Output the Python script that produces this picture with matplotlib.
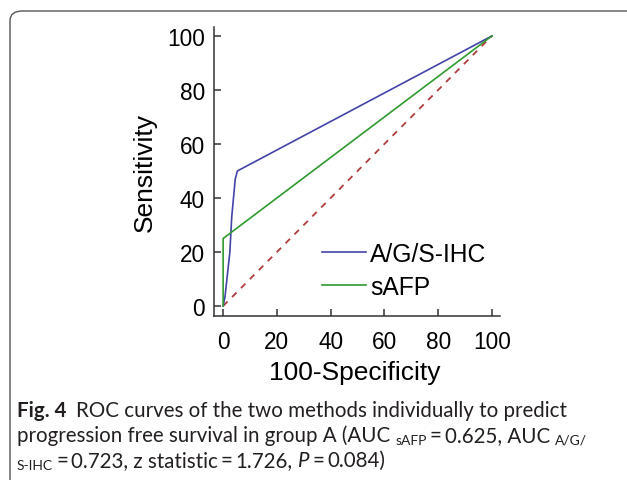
import matplotlib
matplotlib.use("Agg")
import matplotlib.pyplot as plt
from matplotlib.patches import FancyBboxPatch

# ---- data ----
ihc_fpr = [0, 0.7, 2.5, 3.2, 4.5, 5.3, 100]
ihc_tpr = [0, 3.5, 20, 33, 47, 50, 100]
safp_fpr = [0, 0, 100]
safp_tpr = [0, 25, 100]
ref_x = [0, 100]
ref_y = [0, 100]
ticks = [0, 20, 40, 60, 80, 100]
series_labels = ["A/G/S-IHC", "sAFP"]
xlabel = "100-Specificity"
ylabel = "Sensitivity"

W, H = 627, 481
fig = plt.figure(figsize=(W / 100, H / 100), dpi=100)
fig.patch.set_facecolor("white")

def fx(px):
    return px / W

def fy(py):
    return 1 - py / H

# rounded frame
frame = FancyBboxPatch((fx(10), fy(490)), fx(640) - fx(10), fy(12) - fy(490),
                       boxstyle="round,pad=0,rounding_size=0.02",
                       transform=fig.transFigure, fill=False,
                       edgecolor="#555555", linewidth=1.0, clip_on=False)
fig.patches.append(frame)

ax_left, ax_right = 214, 500
ax_top, ax_bottom = 28, 317
ax = fig.add_axes([fx(ax_left), fy(ax_bottom), fx(ax_right) - fx(ax_left), fy(ax_top) - fy(ax_bottom)])
ax.set_facecolor("none")

ax.plot(ref_x, ref_y, color="#b03c3c", linewidth=1.3, linestyle=(0, (3.5, 3.5)))
ax.plot(ihc_fpr, ihc_tpr, color="#4343a8", linewidth=1.2, label=series_labels[0])
ax.plot(safp_fpr, safp_tpr, color="#2f9a2f", linewidth=1.2, label=series_labels[1])

ax.set_xlim(-3.4, 103)
ax.set_ylim(-3.7, 103.3)
ax.set_xticks(ticks)
ax.set_yticks(ticks)
for s in ["top", "right"]:
    ax.spines[s].set_visible(False)
for s in ["left", "bottom"]:
    ax.spines[s].set_color("#333333")
    ax.spines[s].set_linewidth(1.1)

tick_font = "Liberation Sans"
ax.tick_params(axis="both", direction="in", length=5, width=1.1, color="#333333",
               labelsize=16.3, labelcolor="black")
ax.tick_params(axis="x", pad=10)
ax.tick_params(axis="y", pad=6.5)
for lab in ax.get_xticklabels() + ax.get_yticklabels():
    lab.set_fontfamily(tick_font)

ax.set_xlabel(xlabel, fontsize=19, fontfamily=tick_font)
ax.set_ylabel(ylabel, fontsize=19, fontfamily=tick_font)
ax.xaxis.label.set_va("center")
ax.yaxis.label.set_va("center")
ax.xaxis.set_label_coords(fx(355), fy(373), transform=fig.transFigure)
ax.yaxis.set_label_coords(fx(145), fy(173), transform=fig.transFigure)

leg = ax.legend(loc="upper left", bbox_to_anchor=(fx(322), fy(243)),
                bbox_transform=fig.transFigure, frameon=False,
                prop={"family": tick_font, "size": 17.7},
                handlelength=1.8, handletextpad=0.15, labelspacing=0.35,
                borderpad=0, borderaxespad=0)

# ---- caption ----
fig.canvas.draw()
renderer = fig.canvas.get_renderer()
cap_font = "Lato"
cap_size = 14.8
sub_size = 10.0
cap_color = "#231f20"

def runs(x, y, items):
    for it in items:
        s = it[0]
        opts = dict(it[1]) if len(it) > 1 else {}
        gap = opts.pop("gap", 0)
        x += gap
        dy = opts.pop("dy", 0)
        size = opts.pop("size", cap_size)
        t = fig.text(fx(x), fy(y + dy), s, fontsize=size, fontfamily=cap_font,
                     color=cap_color, va="baseline", ha="left", **opts)
        bb = t.get_window_extent(renderer)
        x += bb.width
    return x

sp = 3.0
runs(17, 417, [("Fig. 4", {"weight": "bold"}),
               ("ROC curves of the two methods individually to predict", {"gap": 9})])
runs(17, 442, [("progression free survival in group A (AUC", {}),
               ("sAFP", {"gap": 5, "size": sub_size, "dy": 3}),
               ("=", {"gap": sp}),
               ("0.625, AUC", {"gap": sp}),
               ("A/G/", {"gap": 5, "size": sub_size, "dy": 3})])
runs(17, 467, [("S-IHC", {"size": sub_size, "dy": 3}),
               ("=", {"gap": sp}),
               ("0.723, z statistic", {"gap": sp}),
               ("=", {"gap": sp}),
               ("1.726,", {"gap": sp}),
               ("P", {"gap": 5, "style": "italic"}),
               ("=", {"gap": sp}),
               ("0.084)", {"gap": sp})])

fig.savefig("out.png", dpi=100, facecolor="white")
